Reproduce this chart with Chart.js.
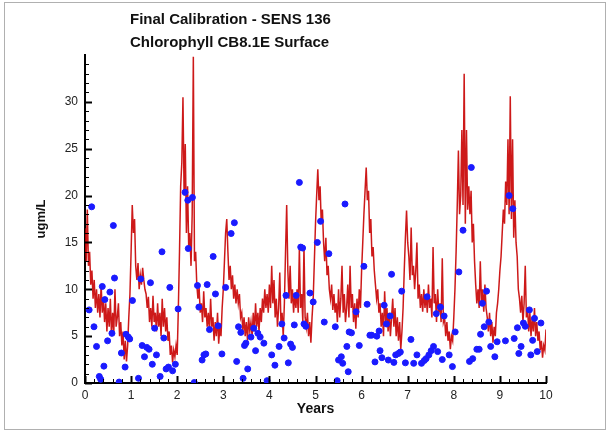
<!DOCTYPE html>
<html lang="en">
<head>
  <meta charset="UTF-8">
  <title>Final Calibration - SENS 136</title>
  <script src="https://cdn.jsdelivr.net/npm/chart.js"></script>
  <style>
    body {
      margin: 0;
      background: #fff;
      font-family: "Liberation Sans", Arial, sans-serif;
    }
    .wrap {
      position: relative;
      width: 611px;
      height: 430px;
    }
    .frame {
      position: absolute;
      left: 4px;
      top: 2px;
      width: 600px;
      height: 426px;
      border: 1px solid #b0b0b0;
    }
    .title {
      position: absolute;
      left: 130px;
      top: 7px;
      font-weight: bold;
      font-size: 15px;
      line-height: 23px;
      color: #111;
    }
    canvas {
      position: absolute;
      left: 0;
      top: 0;
    }
  </style>
</head>
<body>
  <div class="wrap">
    <div class="frame"></div>
    <canvas id="calChart" width="611" height="430"></canvas>
    <div class="title">Final Calibration - SENS 136<br>Chlorophyll CB8.1E Surface</div>
  </div>

  <script>
    // model output, one value every 0.025 years from 0 to 10
    const modelStep = 0.025;
    const modelValues = [
      16.5, 13, 18.5, 12.5, 14, 10.5, 12, 9, 11, 8, 10, 7.5, 9.5, 7, 10.5, 7.5, 9, 6.5, 8.5, 5.5,
      8, 6, 9, 5, 7.5, 5.5, 10, 6, 7, 8.5, 5, 6.5, 4, 5.5, 2.5, 4.5, 2.3, 4, 7, 9.5,
      14, 19, 16, 17.5, 12.5, 11, 12.8, 10, 11.5, 10.5, 12.3, 11, 10, 9.5, 8, 9.2, 6.5, 8, 6, 9.3,
      6.5, 7.5, 5.5, 8.5, 6, 7.5, 5, 9, 6, 8, 5.5, 7, 4.5, 5.5, 3, 4, 2.2, 3.5, 2.8, 4,
      3, 8, 14, 21, 23.5, 30.5, 20, 25.5, 16, 21, 14.5, 16, 12.5, 18, 34.8, 13, 14, 10.5, 9, 10.2,
      7.5, 8.5, 6.5, 9.8, 7, 8, 6, 7.5, 5.5, 9, 6, 7, 4.5, 6.5, 5, 7.5, 4.2, 6, 5, 8,
      10, 13, 16, 17.5, 14, 11, 12.5, 10, 11.5, 9, 10.5, 8.5, 10, 8.5, 9.5, 7, 7.5, 5.5, 7, 5,
      6.5, 4.5, 7, 5.5, 6.5, 5, 7.5, 5.5, 8.5, 6, 7.5, 5.5, 8, 6.5, 9, 7.5, 10, 8, 9.5, 7.5,
      10.5, 8, 12.5, 8.5, 11, 7, 9, 6, 8, 11.8, 6.5, 7.5, 5, 8.5, 14, 19, 12, 9, 12.5, 8.5,
      10, 7.5, 9.5, 8, 10, 7.5, 14.4, 8, 9.5, 6.5, 14.6, 7, 6, 7.5, 5, 6.5, 4.3, 7, 9, 13,
      17, 20, 22.8, 19.5, 21, 17, 18.5, 15, 13, 15.5, 11.5, 12.5, 10, 9, 10.5, 7.8, 9.5, 7.5, 8.5, 6.5,
      10, 7, 9, 12.5, 7.5, 9.5, 6.5, 8, 10.5, 7, 12.5, 8, 9.5, 6.5, 8.5, 5.8, 9, 7, 10, 8,
      12, 15, 18, 20.5, 23, 19.5, 20.5, 16, 17.5, 13.5, 14.5, 12, 10.5, 9, 10, 7.5, 8.5, 6, 7.5, 5,
      9.8, 6.5, 8, 5.5, 7.5, 5, 7, 9, 6, 8, 5, 7, 4.5, 6.5, 3.6, 5.5, 8, 12, 15.5, 18.4,
      15, 13.5, 11, 16.6, 11.5, 12.5, 10, 12, 15, 9, 10.5, 8, 9.5, 7.6, 10, 8, 9.5, 7.5, 10.5, 8,
      9, 7, 14.5, 8.5, 9.5, 6.5, 10, 7.5, 8.5, 6.5, 13.3, 6.5, 7, 5, 6.5, 4.5, 5.5, 3.6, 5, 4.5,
      7, 10, 14, 19, 24.8, 18, 20, 27, 19, 33, 17, 27, 18.5, 21, 18, 20.5, 15, 17, 13, 10.5,
      8.5, 10, 8, 13, 8.5, 10, 7.6, 10.5, 8, 7, 5.5, 7.5, 5, 6.5, 4.3, 6, 5, 7.5, 8.5, 10,
      12, 13.5, 16, 18.5, 17, 21.5, 19, 26, 18, 30.6, 17.5, 26, 15.5, 19.5, 15, 13.5, 10, 9, 7.5, 9.3,
      6.5, 8.5, 12.5, 7, 8, 5.5, 7.5, 5, 7, 5.5, 8, 5, 6.5, 4.5, 5.5, 3.5, 4.5, 2.7, 4, 3.5,
      5.7
    ];

    // observations
    const obsYears = [
      0.09, 0.145, 0.195, 0.25, 0.31, 0.34, 0.375, 0.41, 0.43, 0.49, 0.54, 0.585, 0.615, 0.64, 0.74, 0.79, 0.87, 0.89, 0.94, 0.97,
      1.03, 1.16, 1.21, 1.24, 1.29, 1.34, 1.39, 1.42, 1.46, 1.51, 1.55, 1.63, 1.67, 1.71, 1.76, 1.81, 1.84, 1.90, 1.96, 2.02,
      2.17, 2.23, 2.33, 2.24, 2.37, 2.44, 2.47, 2.54, 2.58, 2.62, 2.65, 2.70, 2.78, 2.83, 2.89, 2.97, 3.05, 3.17, 3.24, 3.29,
      3.33, 3.38, 3.43, 3.46, 3.49, 3.53, 3.60, 3.66, 3.70, 3.75, 3.80, 3.88, 3.95, 4.05, 4.12, 4.21, 4.27, 4.32, 4.36, 4.41,
      4.46, 4.50, 4.54, 4.58, 4.65, 4.68, 4.72, 4.75, 4.79, 4.88, 4.95, 5.04, 5.11, 5.19, 5.29, 5.43, 5.47, 5.50, 5.56, 5.59,
      5.64, 5.68, 5.71, 5.73, 5.78, 5.88, 5.95, 6.05, 6.12, 6.18, 6.22, 6.29, 6.33, 6.38, 6.40, 6.44, 6.49, 6.54, 6.58, 6.62,
      6.65, 6.70, 6.74, 6.80, 6.84, 6.87, 6.95, 7.07, 7.13, 7.20, 7.30, 7.36, 7.40, 7.42, 7.46, 7.51, 7.56, 7.62, 7.65, 7.71,
      7.75, 7.79, 7.90, 7.97, 8.03, 8.11, 8.20, 8.34, 8.38, 8.41, 8.50, 8.55, 8.58, 8.62, 8.66, 8.71, 8.76, 8.80, 8.89, 8.94,
      9.12, 9.20, 9.28, 9.31, 9.38, 9.41, 9.46, 9.51, 9.55, 9.64, 9.67, 9.71, 9.75, 9.81, 9.89
    ];
    const obsValues = [
      7.8, 18.8, 6.0, 3.9, 0.7, 0.4, 10.3, 1.8, 8.9, 4.5, 9.7, 5.3, 16.8, 11.2, 0.1, 3.2, 1.7, 5.2, 4.9, 4.7,
      8.8, 0.5, 11.1, 4.0, 2.8, 3.8, 3.6, 10.7, 2.0, 5.85, 3.0, 0.7, 14.0, 4.8, 1.5, 1.7, 10.2, 1.3, 2.0, 7.9,
      20.35, 19.5, 19.8, 14.35, 0.05, 10.4, 8.1, 2.45, 3.0, 3.1, 10.5, 5.7, 13.5, 9.5, 6.1, 3.1, 10.2, 15.95, 17.1, 2.3,
      6.0, 5.4, 0.5, 4.0, 4.25, 1.5, 4.9, 5.85, 3.45, 5.3, 4.9, 4.25, 0.25, 3.0, 1.9, 3.9, 6.3, 4.8, 9.35, 2.15,
      4.15, 3.8, 6.2, 9.35, 21.4, 14.5, 14.4, 6.3, 6.05, 9.6, 8.65, 15.0, 17.25, 6.5, 13.8, 6.0, 0.25, 2.45, 2.8, 2.1,
      19.1, 3.9, 1.2, 5.45, 5.35, 7.6, 4.0, 12.45, 8.4, 5.1, 5.1, 2.25, 5.0, 5.55, 3.45, 2.7, 8.3, 6.3, 2.45, 7.15,
      11.6, 2.2, 3.0, 3.15, 3.3, 9.8, 2.15, 4.65, 2.1, 3.0, 2.1, 2.4, 2.6, 9.2, 3.0, 3.45, 3.9, 7.4, 3.35, 8.1,
      2.5, 7.15, 3.0, 1.75, 5.45, 11.85, 16.3, 2.3, 23.0, 2.6, 3.6, 3.6, 5.2, 8.5, 6.0, 9.8, 6.5, 3.9, 2.8, 4.4,
      4.5, 20.0, 18.6, 4.75, 5.9, 3.15, 3.9, 6.4, 6.05, 7.8, 3.0, 4.55, 6.9, 3.35, 6.4
    ];

    const yTicks = [0, 5, 10, 15, 20, 25, 30];

    const modelPoints = modelValues.map((v, i) => ({ x: +(i * modelStep).toFixed(3), y: v }));
    const obsPoints = obsYears.map((x, i) => ({ x: x, y: obsValues[i] }));

    // Tecplot style ticks pointing into the plot
    const innerTicks = {
      id: 'innerTicks',
      afterDraw(chart) {
        const ctx = chart.ctx;
        const x = chart.scales.x;
        const y = chart.scales.y;
        const area = chart.chartArea;
        ctx.save();
        ctx.strokeStyle = '#000';
        for (let i = 0; i <= 50; i++) {
          const px = Math.round(x.getPixelForValue(i * 0.2)) + 0.5;
          const major = i % 5 === 0;
          ctx.lineWidth = major ? 2 : 1;
          ctx.beginPath();
          ctx.moveTo(px, area.bottom);
          ctx.lineTo(px, area.bottom - (major ? 7 : 4));
          ctx.stroke();
        }
        for (let v = 0; v <= 34; v++) {
          const py = Math.round(y.getPixelForValue(v)) + 0.5;
          const major = v % 5 === 0;
          ctx.lineWidth = major ? 2 : 1;
          ctx.beginPath();
          ctx.moveTo(area.left, py);
          ctx.lineTo(area.left + (major ? 7 : 4), py);
          ctx.stroke();
        }
        ctx.restore();
      }
    };

    new Chart(document.getElementById('calChart'), {
      type: 'scatter',
      data: {
        datasets: [
          {
            label: 'Observed',
            data: obsPoints,
            backgroundColor: '#1a1aff',
            borderColor: '#1a1aff',
            pointRadius: 3,
            pointHoverRadius: 3,
            order: 0
          },
          {
            label: 'Model',
            type: 'line',
            data: modelPoints,
            borderColor: 'rgba(200,0,0,0.9)',
            borderWidth: 1.5,
            pointRadius: 0,
            tension: 0,
            fill: false,
            order: 1
          }
        ]
      },
      plugins: [innerTicks],
      options: {
        responsive: false,
        animation: false,
        layout: { padding: { top: 55, right: 65, left: 0, bottom: 0 } },
        plugins: {
          legend: { display: false },
          tooltip: { enabled: false }
        },
        scales: {
          x: {
            type: 'linear',
            min: 0,
            max: 10,
            afterFit: s => { s.height = 47; },
            grid: { display: false, drawTicks: false },
            border: { display: true, color: '#000', width: 2 },
            ticks: {
              stepSize: 1,
              padding: 5,
              color: '#222',
              font: { family: 'Liberation Sans', size: 12 }
            },
            title: {
              display: true,
              text: 'Years',
              color: '#111',
              padding: { top: 0, bottom: 12 },
              font: { family: 'Liberation Sans', size: 14, weight: 'bold' }
            }
          },
          y: {
            type: 'linear',
            min: 0,
            max: 35,
            afterFit: s => { s.width = 85; },
            afterBuildTicks: s => { s.ticks = yTicks.map(v => ({ value: v })); },
            grid: { display: false, drawTicks: false },
            border: { display: true, color: '#000', width: 2 },
            ticks: {
              padding: 7,
              color: '#222',
              font: { family: 'Liberation Sans', size: 12 }
            },
            title: {
              display: true,
              text: 'ugm/L',
              color: '#111',
              padding: { top: 34, bottom: 0 },
              font: { family: 'Liberation Sans', size: 13, weight: 'bold' }
            }
          }
        }
      }
    });
  </script>
</body>
</html>
